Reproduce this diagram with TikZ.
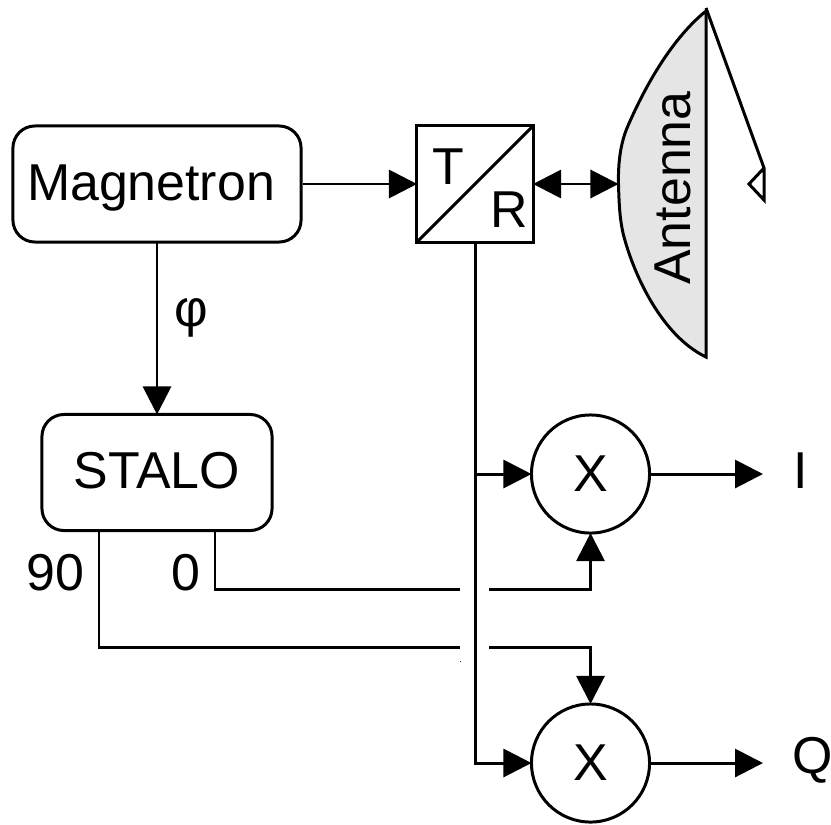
\documentclass[tikz,border=0pt]{standalone}
\usepackage{fontspec}
\setmainfont{Liberation Sans}
\usetikzlibrary{arrows.meta}
\usetikzlibrary{calc}
\definecolor{dishcolor}{HTML}{E5E5E5}
\tikzset{
  wire/.style={black,line width=0.85pt},
  flow/.style={wire,-{Triangle[length=0.28cm,width=0.28cm]}},
  flowboth/.style={wire,{Triangle[length=0.28cm,width=0.28cm]}-{Triangle[length=0.28cm,width=0.28cm]}},
  blockbox/.style={draw,wire,rounded corners=0.22cm,outer sep=0pt,inner sep=0pt,minimum height=1.16cm},
  mixer/.style={draw,wire,circle,outer sep=0pt,inner sep=0pt,minimum size=1.18cm},
  lbl/.style={inner sep=0pt,font=\fontsize{14.75pt}{16pt}\selectfont}
}
\begin{document}
\begin{tikzpicture}[x=0.01cm,y=-0.01cm]
  \useasboundingbox (0,0) rectangle (831,824);
  %% blocks
  \node[blockbox,lbl,minimum width=2.88cm,text height=0.37cm,text depth=0.05cm] (magnetron) at (157,184) {Magnetron\kern0.12cm};
  \node[blockbox,lbl,minimum width=2.30cm,text height=0.37cm,text depth=0.06cm] (stalo) at (157,472.5) {STALO};
  \node[draw,wire,outer sep=0pt,minimum size=1.16cm] (tr) at (475,184) {};
  \draw[wire] (tr.south west) -- (tr.north east);
  \node[lbl,anchor=base] (tlabel) at (448,184) {T};
  \node[lbl,anchor=base] (rlabel) at (509.5,227) {R};
  %% antenna
  \draw[wire,fill=dishcolor] (706,11) .. controls (680,32) and (652,70) .. (627,128)
     .. controls (620,145) and (618,165) .. (618.5,184)
     .. controls (619,205) and (620,220) .. (623,233)
     .. controls (632,270) and (660,335) .. (706,357) -- cycle;
  \draw[wire] (706,8) -- (764,168) -- (764,200) -- (749,184) -- (764,168);
  \coordinate (dish) at (618.5,184);
  \node[lbl,rotate=90,anchor=base] (antenna) at (690,188) {Antenna};
  %% mixers and outputs
  \foreach \name/\y/\outname/\outtext/\outx in {mixi/474/outi/I/800.5, mixq/763/outq/Q/812.5} {
    \node[mixer,lbl] (\name) at (590.5,\y) {X};
    \coordinate (\outname) at (763,\y);
    \draw[flow] (\name.east) -- (\outname);
    \node[lbl] (\outname label) at (\outx,\y-3) {\outtext};
  }
  %% top row
  \draw[flow] (magnetron.east)++(2,0) -- (tr.west);
  \draw[flowboth] (tr.east) -- (dish);
  \draw[flow] (magnetron.south) -- (stalo.north);
  \node[lbl] (philabel) at (191,318) {φ};
  %% received signal
  \draw[flow] (tr.south) |- (mixq.west);
  \draw[flow] (tr.south |- mixi.west) -- (mixi.west);
  %% reference signals
  \coordinate (zero) at (215,530);
  \coordinate (ninety) at (99,530);
  \coordinate (zerogap) at (460,589);
  \coordinate (zeroback) at (489,589);
  \coordinate (ninetygap) at (460,647);
  \coordinate (ninetyback) at (489,647);
  \draw[wire] (zero) |- (zerogap);
  \draw[flow] (zeroback) -| (mixi.south);
  \draw[wire] (ninety) |- (ninetygap);
  \draw[flow] (ninetyback) -| (mixq.north);
  \node[lbl,anchor=base] (ninetylabel) at (55.5,590) {90};
  \node[lbl,anchor=base] (zerolabel) at (186,590) {0};
  \fill (460.5,661.5) circle (0.5);
\end{tikzpicture}
\end{document}
